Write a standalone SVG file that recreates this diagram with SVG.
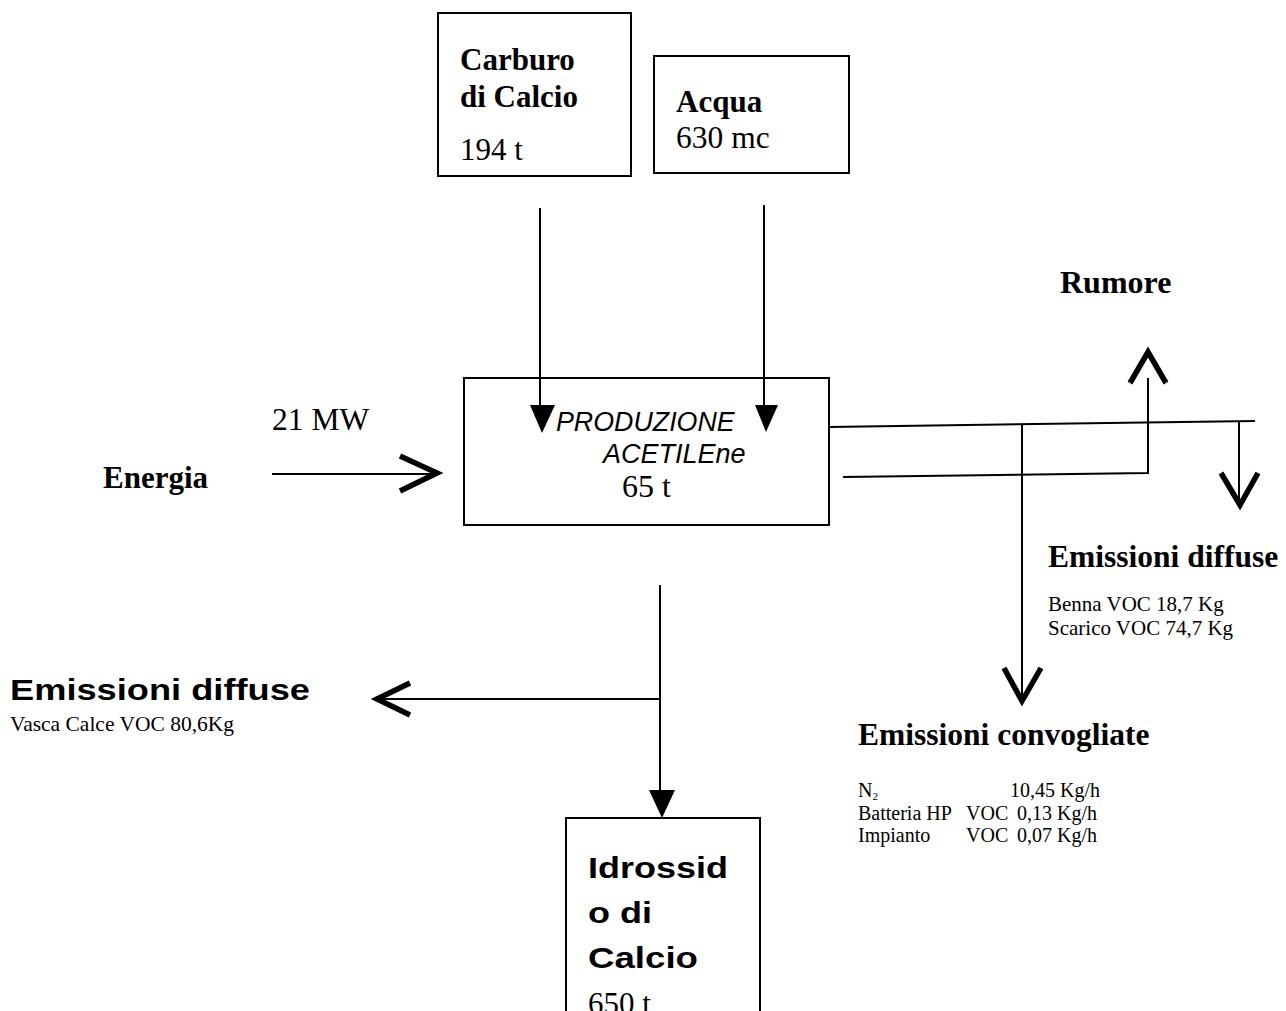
<svg xmlns="http://www.w3.org/2000/svg" width="1286" height="1011" viewBox="0 0 1286 1011">
<style>
.box{fill:#fff;stroke:#000;stroke-width:2}
.ln{fill:none;stroke:#000;stroke-width:2}
.chev{fill:none;stroke:#000;stroke-width:5.5;stroke-linejoin:miter}
.tri{fill:#000}
.sb{font-family:"Liberation Serif",serif;font-weight:bold;fill:#000}
.sr{font-family:"Liberation Serif",serif;fill:#000}
.ab{font-family:"Liberation Sans",Arial,sans-serif;font-weight:bold;fill:#000}
.it{font-family:"Liberation Sans",Arial,sans-serif;font-style:italic;fill:#000}
.sm{font-family:"Liberation Serif",serif;font-size:21px;fill:#000}
.sn{font-family:"Liberation Serif",serif;font-size:20px;fill:#000}
</style>
<rect width="1286" height="1011" fill="#fff"/>
<g id="carburo">
<rect class="box" x="438" y="13" width="193" height="163"/>
<text class="sb" x="460" y="70" font-size="31">Carburo</text>
<text class="sb" x="460" y="107" font-size="31">di Calcio</text>
<text class="sr" x="460" y="160" font-size="31">194 t</text>
</g>
<g id="acqua">
<rect class="box" x="654" y="56" width="195" height="117"/>
<text class="sb" x="676" y="112" font-size="31">Acqua</text>
<text class="sr" x="676" y="148" font-size="31.5">630 mc</text>
</g>
<g id="produzione">
<rect class="box" x="464" y="378" width="365" height="147"/>
<text class="it" x="556" y="431" font-size="26.8">PRODUZIONE</text>
<text class="it" x="603" y="463" font-size="27">ACETILEne</text>
<text class="sr" x="622" y="497" font-size="32">65 t</text>
</g>
<g id="energia">
<text class="sb" x="103" y="488" font-size="31">Energia</text>
<text class="sr" x="272" y="430" font-size="31.5">21 MW</text>
</g>
<g id="rumore">
<text class="sb" x="1060" y="293" font-size="32">Rumore</text>
</g>
<g id="emissioni-diffuse-dx">
<text class="sb" x="1048" y="567" font-size="31.5">Emissioni diffuse</text>
<text class="sm" x="1048" y="611">Benna VOC 18,7 Kg</text>
<text class="sm" x="1048" y="635">Scarico VOC 74,7 Kg</text>
</g>
<g id="emissioni-convogliate">
<text class="sb" x="858" y="745" font-size="31.5">Emissioni convogliate</text>
<text class="sn" x="858" y="797">N<tspan font-size="11" dy="3">2</tspan></text>
<text class="sn" x="1010" y="797">10,45 Kg/h</text>
<text class="sn" x="858" y="820">Batteria HP</text>
<text class="sn" x="966" y="820">VOC</text>
<text class="sn" x="1017" y="820">0,13 Kg/h</text>
<text class="sn" x="858" y="842">Impianto</text>
<text class="sn" x="966" y="842">VOC</text>
<text class="sn" x="1017" y="842">0,07 Kg/h</text>
</g>
<g id="emissioni-diffuse-sx">
<text class="ab" x="10" y="700" font-size="29" textLength="300" lengthAdjust="spacingAndGlyphs">Emissioni diffuse</text>
<text class="sr" x="10" y="731" font-size="21.5">Vasca Calce VOC 80,6Kg</text>
</g>
<g id="idrossido">
<rect class="box" x="566" y="818" width="194" height="200"/>
<text class="ab" x="588" y="878" font-size="30" textLength="140" lengthAdjust="spacingAndGlyphs">Idrossid</text>
<text class="ab" x="588" y="923" font-size="30" textLength="64" lengthAdjust="spacingAndGlyphs">o di</text>
<text class="ab" x="588" y="968" font-size="30" textLength="110" lengthAdjust="spacingAndGlyphs">Calcio</text>
<text class="sr" x="588" y="1014" font-size="31">650 t</text>
</g>
<g id="connectors">
<line class="ln" x1="540" y1="208" x2="540" y2="408"/>
<polygon class="tri" points="530,405 555,405 542,433"/>
<line class="ln" x1="764" y1="205" x2="764" y2="408"/>
<polygon class="tri" points="755,405 778,405 766,432"/>
<line class="ln" x1="272" y1="474" x2="434" y2="474"/>
<polyline class="chev" points="400,456 437,473 400,491"/>
<polyline class="ln" points="829,427 1255,421"/>
<polyline class="ln" points="843,477 1148,473 1148,378"/>
<polyline class="chev" points="1130,383 1148,352 1166,383"/>
<line class="ln" x1="1239" y1="422" x2="1239" y2="500"/>
<polyline class="chev" points="1221,473 1240,505 1258,473"/>
<line class="ln" x1="1022" y1="425" x2="1022" y2="700"/>
<polyline class="chev" points="1004,668 1022,701 1041,668"/>
<line class="ln" x1="660" y1="585" x2="660" y2="792"/>
<polygon class="tri" points="649,790 675,790 662,818"/>
<line class="ln" x1="378" y1="699" x2="660" y2="699"/>
<polyline class="chev" points="410,683 377,699 410,715"/>
</g>
</svg>
